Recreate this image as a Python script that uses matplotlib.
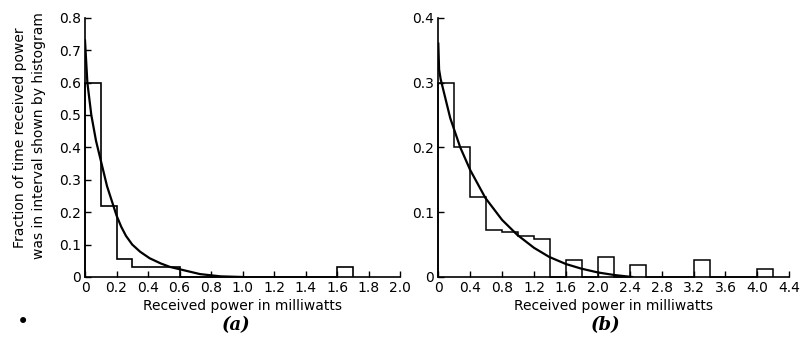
import numpy as np
import matplotlib
matplotlib.use("Agg")
import matplotlib.pyplot as plt

plt.rcParams['font.family'] = ['DejaVu Sans']

# ---- panel (a): bins of 0.1 mW ----
edges_a = [0.0, 0.1, 0.2, 0.3, 0.4, 0.5, 0.6, 0.7, 0.8, 0.9, 1.0,
           1.1, 1.2, 1.3, 1.4, 1.5, 1.6, 1.7]
hist_a = [0.60, 0.22, 0.055, 0.03, 0.03, 0.03, 0.0, 0.0, 0.0, 0.0,
          0.0, 0.0, 0.0, 0.0, 0.0, 0.0, 0.03]
curve_a_x = [0.0, 0.015, 0.04, 0.07, 0.10, 0.14, 0.17, 0.20, 0.23, 0.26,
             0.30, 0.35, 0.41, 0.48, 0.54, 0.60, 0.73, 0.86, 1.0]
curve_a_y = [0.73, 0.60, 0.50, 0.42, 0.36, 0.28, 0.235, 0.19, 0.155, 0.127,
             0.10, 0.078, 0.058, 0.042, 0.031, 0.024, 0.009, 0.002, 0.0]
xticks_a = [0, 0.2, 0.4, 0.6, 0.8, 1.0, 1.2, 1.4, 1.6, 1.8, 2.0]
xlabels_a = ['0', '0.2', '0.4', '0.6', '0.8', '1.0', '1.2', '1.4', '1.6', '1.8', '2.0']
yticks_a = [0, 0.1, 0.2, 0.3, 0.4, 0.5, 0.6, 0.7, 0.8]
ylabels_a = ['0', '0.1', '0.2', '0.3', '0.4', '0.5', '0.6', '0.7', '0.8']

# ---- panel (b): bins of 0.2 mW ----
edges_b = [0.0, 0.2, 0.4, 0.6, 0.8, 1.0, 1.2, 1.4, 1.6, 1.8, 2.0, 2.2,
           2.4, 2.6, 2.8, 3.0, 3.2, 3.4, 3.6, 3.8, 4.0, 4.2]
hist_b = [0.30, 0.20, 0.123, 0.073, 0.069, 0.064, 0.058, 0.0, 0.026, 0.0,
          0.031, 0.0, 0.019, 0.0, 0.0, 0.0, 0.026, 0.0, 0.0, 0.0, 0.012]
curve_b_x = [0.0, 0.01, 0.03, 0.15, 0.275, 0.40, 0.59, 0.80, 0.99, 1.20,
             1.39, 1.60, 1.79, 2.00, 2.21, 2.43]
curve_b_y = [0.36, 0.32, 0.305, 0.245, 0.20, 0.165, 0.122, 0.088, 0.065,
             0.045, 0.031, 0.020, 0.013, 0.007, 0.003, 0.0]
xticks_b = [0, 0.4, 0.8, 1.2, 1.6, 2.0, 2.4, 2.8, 3.2, 3.6, 4.0, 4.4]
xlabels_b = ['0', '0.4', '0.8', '1.2', '1.6', '2.0', '2.4', '2.8', '3.2', '3.6', '4.0', '4.4']
yticks_b = [0, 0.1, 0.2, 0.3, 0.4]
ylabels_b = ['0', '0.1', '0.2', '0.3', '0.4']

fig = plt.figure(figsize=(8.01, 3.48), dpi=100)
ax_a = fig.add_axes([85 / 801, 71 / 348, 315 / 801, 259.3 / 348])
ax_b = fig.add_axes([438.3 / 801, 71 / 348, 351 / 801, 259.3 / 348])


def style_axes(ax, xlim, ylim, xt, xl, yt, yl):
    ax.set_xlim(*xlim)
    ax.set_ylim(*ylim)
    ax.set_xticks(xt)
    ax.set_xticklabels(xl)
    ax.set_yticks(yt)
    ax.set_yticklabels(yl)
    for side in ('top', 'right'):
        ax.spines[side].set_visible(False)
    for side in ('left', 'bottom'):
        ax.spines[side].set_linewidth(1.2)
    ax.tick_params(direction='in', length=4, width=1.0, labelsize=10, pad=3)
    ax.set_xlabel('Received power in milliwatts', fontsize=10, labelpad=3)


ax_a.stairs(hist_a, edges_a, baseline=0, color='black', linewidth=1.2)
ax_a.plot(curve_a_x, curve_a_y, color='black', linewidth=1.6)
style_axes(ax_a, (0, 2.0), (0, 0.8), xticks_a, xlabels_a, yticks_a, ylabels_a)

ax_b.stairs(hist_b, edges_b, baseline=0, color='black', linewidth=1.1)
ax_b.plot(curve_b_x, curve_b_y, color='black', linewidth=1.6)
style_axes(ax_b, (0, 4.4), (0, 0.4), xticks_b, xlabels_b, yticks_b, ylabels_b)

for ax in (ax_a, ax_b):
    for p in ax.patches:
        p.set_clip_on(False)

fig.text(20 / 801, 1 - 138 / 348, 'Fraction of time received power',
         rotation=90, ha='center', va='center', fontsize=10)
fig.text(39 / 801, 1 - 136 / 348, 'was in interval shown by histogram',
         rotation=90, ha='center', va='center', fontsize=10)

fig.text(236 / 801, 1 - 325 / 348, '(a)', ha='center', va='center',
         fontsize=13, family='DejaVu Serif', style='italic', weight='bold')
fig.text(606 / 801, 1 - 325 / 348, '(b)', ha='center', va='center',
         fontsize=13, family='DejaVu Serif', style='italic', weight='bold')
fig.text(23 / 801, 1 - 322 / 348, '\u2022', ha='center', va='center', fontsize=15)

fig.savefig('out.png', dpi=100)
